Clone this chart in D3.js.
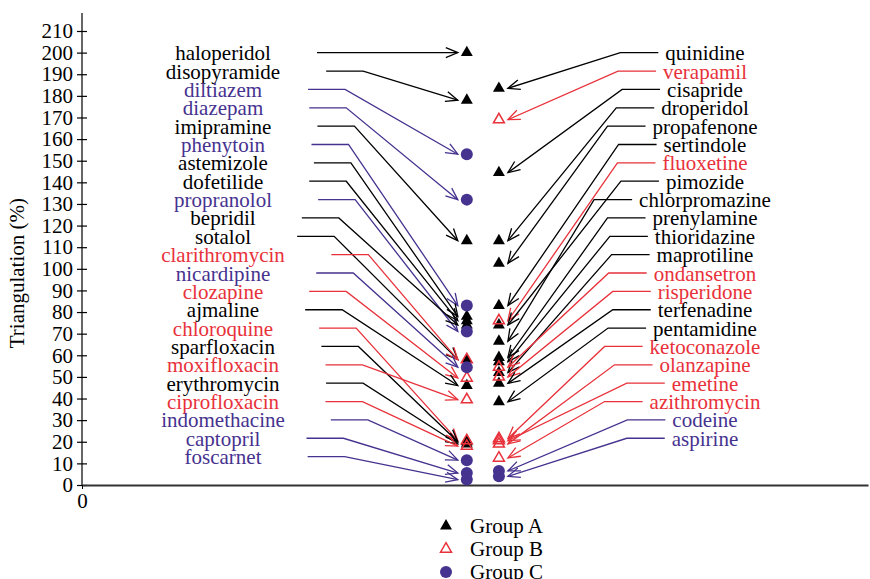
<!DOCTYPE html>
<html>
<head>
<meta charset="utf-8">
<script src="https://cdn.jsdelivr.net/npm/d3@7"></script>
<style>
  body { margin: 0; background: #fff; }
  text { font-family: "Liberation Serif", "Times New Roman", serif; }
</style>
</head>
<body>
<svg id="chart" width="870" height="579"></svg>
<script>
// Triangulation (%) per drug, shown as two annotated columns of markers.
const leftDrugs = ["haloperidol", "disopyramide", "diltiazem", "diazepam", "imipramine",
  "phenytoin", "astemizole", "dofetilide", "propranolol", "bepridil", "sotalol",
  "clarithromycin", "nicardipine", "clozapine", "ajmaline", "chloroquine",
  "sparfloxacin", "moxifloxacin", "erythromycin", "ciprofloxacin", "indomethacine",
  "captopril", "foscarnet"];
const leftGroups = ["A", "A", "C", "C", "A", "C", "A", "A", "C", "A", "A",
  "B", "C", "B", "A", "B", "A", "B", "A", "B", "C", "C", "C"];
const leftValues = [200, 178, 153, 132, 113, 83, 78, 76, 71, 74, 58,
  58, 54.5, 49.5, 46, 20.5, 20, 39.5, 19, 18, 11.5, 5.5, 2.5];

const rightDrugs = ["quinidine", "verapamil", "cisapride", "droperidol", "propafenone",
  "sertindole", "fluoxetine", "pimozide", "chlorpromazine", "prenylamine",
  "thioridazine", "maprotiline", "ondansetron", "risperidone", "terfenadine",
  "pentamidine", "ketoconazole", "olanzapine", "emetine", "azithromycin",
  "codeine", "aspirine"];
const rightGroups = ["A", "B", "A", "A", "A", "A", "B", "A", "A", "A", "A",
  "A", "B", "B", "A", "A", "B", "B", "B", "B", "C", "C"];
const rightValues = [183.5, 169, 144.5, 113, 102.5, 83, 76, 74, 66.5, 59, 57,
  52, 54.5, 50, 47, 38.5, 21.5, 19, 20.5, 12.5, 6.5, 4];

const yTicks = d3.range(0, 211, 10);
const groupKeys = ["A", "B", "C"];
const groupLabels = ["Group A", "Group B", "Group C"];

// ---- layout ----
const svg = d3.select("#chart");
const FONT = 21;
const colors = { A: "#000000", B: "#e8313a", C: "#46328f" };

const y = d3.scaleLinear().domain([0, 210]).range([485, 31]);
const x = d3.scaleLinear().domain([0, 24]).range([82, 868]);
const columnPos = { left: 11.75, right: 12.73 };

// label rows (same spacing on both sides)
const rowY = i => 52.7 + 18.36 * i;

// arrowheads, one per colour
const defs = svg.append("defs");
groupKeys.forEach(k => {
  defs.append("marker")
    .attr("id", "arrow-" + k)
    .attr("viewBox", "-14 -7 16 14")
    .attr("refX", 0).attr("refY", 0)
    .attr("markerWidth", 16).attr("markerHeight", 14)
    .attr("markerUnits", "userSpaceOnUse")
    .attr("orient", "auto")
    .append("path")
    .attr("d", "M-12,-5L0,0L-12,5")
    .attr("fill", "none")
    .attr("stroke", colors[k])
    .attr("stroke-width", 1.3);
});

// ---- axes ----
const yAxis = svg.append("g")
  .attr("transform", `translate(${x(0)},0)`)
  .call(d3.axisLeft(y).tickValues(yTicks).tickSizeInner(5).tickSizeOuter(0).tickPadding(4));
yAxis.select(".domain").remove();
yAxis.append("line")
  .attr("x1", 0).attr("x2", 0)
  .attr("y1", y(0)).attr("y2", 13)
  .attr("stroke", "#000").attr("stroke-width", 1.2);
yAxis.selectAll(".tick line").attr("x1", 5).attr("stroke", "#000").attr("stroke-width", 1.2);
yAxis.selectAll(".tick text")
  .attr("fill", "#000")
  .style("font-family", '"Liberation Serif", "Times New Roman", serif')
  .style("font-size", FONT + "px");

const xAxis = svg.append("g")
  .attr("transform", `translate(0,${y(0)})`)
  .call(d3.axisBottom(x).tickValues([0]).tickSizeInner(4).tickSizeOuter(0).tickPadding(4));
xAxis.select(".domain").attr("stroke", "#333").attr("stroke-width", 1.8);
xAxis.selectAll(".tick line").attr("stroke", "#000");
xAxis.selectAll(".tick text")
  .attr("fill", "#000")
  .style("font-family", '"Liberation Serif", "Times New Roman", serif')
  .style("font-size", FONT + "px");

svg.append("text")
  .attr("transform", `translate(24,${y(98)}) rotate(-90)`)
  .attr("text-anchor", "middle")
  .style("font-size", FONT + "px")
  .text("Triangulation (%)");

// ---- labels and leader arrows ----
function drawSide(names, groups, values, side) {
  const colX = x(side === "left" ? columnPos.left : columnPos.right);
  const g = svg.append("g");
  names.forEach((name, i) => {
    const ry = rowY(i);
    const grp = groups[i];
    const label = g.append("text")
      .attr("x", side === "left" ? 223 : 705)
      .attr("y", ry + 7.5)
      .attr("text-anchor", "middle")
      .attr("fill", colors[grp])
      .style("font-size", FONT + "px")
      .text(name);
    const bb = label.node().getBBox();
    let start, elbow, tipX;
    if (side === "left") {
      start = bb.x + bb.width + 46;
      elbow = start + 37;
      tipX = colX - 9;
    } else {
      start = bb.x - 7;
      elbow = start - 38;
      tipX = colX + 9;
    }
    g.insert("path", "text")
      .attr("d", `M${start},${ry}L${elbow},${ry}L${tipX},${y(values[i])}`)
      .attr("fill", "none")
      .attr("stroke", colors[grp])
      .attr("stroke-width", 1.3)
      .attr("marker-end", `url(#arrow-${grp})`);
  });
}
drawSide(leftDrugs, leftGroups, leftValues, "left");
drawSide(rightDrugs, rightGroups, rightValues, "right");

// ---- markers ----
const triFilled = d3.symbol().type(d3.symbolTriangle).size(62);
const triHollow = d3.symbol().type(d3.symbolTriangle).size(52);

function pointsFor(groups, values, side) {
  return values.map((v, i) => ({ v, g: groups[i], cx: x(side === "left" ? columnPos.left : columnPos.right) }));
}
const allPoints = pointsFor(leftGroups, leftValues, "left")
  .concat(pointsFor(rightGroups, rightValues, "right"));

function drawMarker(sel, g) {
  if (g === "A") {
    sel.append("path").attr("d", triFilled()).attr("fill", colors.A);
  } else if (g === "B") {
    sel.append("path").attr("d", triHollow()).attr("fill", "none")
      .attr("stroke", colors.B).attr("stroke-width", 1.5);
  } else {
    sel.append("circle").attr("r", 6).attr("fill", colors.C);
  }
}

const markerLayer = svg.append("g");
groupKeys.forEach(k => {
  allPoints.filter(p => p.g === k).forEach(p => {
    const m = markerLayer.append("g").attr("transform", `translate(${p.cx},${y(p.v)})`);
    drawMarker(m, k);
  });
});

// ---- legend ----
const legend = svg.append("g");
groupKeys.forEach((k, i) => {
  const ly = 526 + i * 23;
  const m = legend.append("g").attr("transform", `translate(446,${ly})`);
  drawMarker(m, k);
  legend.append("text")
    .attr("x", 470).attr("y", ly + 7)
    .style("font-size", FONT + "px")
    .attr("fill", "#000")
    .text(groupLabels[i]);
});
</script>
</body>
</html>
